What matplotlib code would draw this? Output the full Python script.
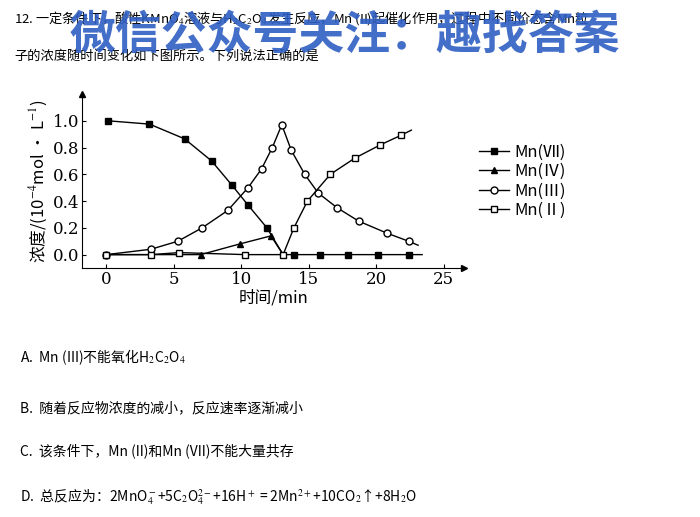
import matplotlib
matplotlib.use("Agg")
import matplotlib.pyplot as plt

plt.rcParams['font.family'] = ['Noto Sans CJK SC', 'DejaVu Sans']
plt.rcParams['mathtext.fontset'] = 'stix'

t7 = [0.1, 3.2, 5.8, 7.8, 9.3, 10.5, 11.9, 13.1, 13.9, 15.8, 17.9, 20.1, 22.4, 23.4]
v7 = [1.0, 0.975, 0.865, 0.70, 0.52, 0.37, 0.20, 0.0, 0.0, 0.0, 0.0, 0.0, 0.0, 0.0]
m7 = [0, 1, 2, 3, 4, 5, 6, 8, 9, 10, 11, 12]
t4 = [0.0, 7.0, 9.9, 12.2, 13.1]
v4 = [0.0, 0.0, 0.08, 0.14, 0.0]
m4 = [1, 2, 3]
t3 = [0.0, 3.3, 5.3, 7.1, 9.0, 10.5, 11.5, 12.3, 13.0, 13.7, 14.7, 15.7, 17.1, 18.7, 20.8, 22.4, 23.1]
v3 = [0.0, 0.04, 0.10, 0.20, 0.33, 0.50, 0.64, 0.80, 0.97, 0.78, 0.60, 0.46, 0.35, 0.25, 0.16, 0.10, 0.07]
m3 = list(range(16))
t2 = [0.0, 3.3, 5.4, 10.3, 13.1, 13.9, 14.9, 16.6, 18.4, 20.3, 21.8, 22.6]
v2 = [0.0, 0.0, 0.015, 0.0, 0.0, 0.20, 0.40, 0.60, 0.72, 0.82, 0.89, 0.93]
m2 = list(range(11))
labels = ['Mn(Ⅶ)', 'Mn(Ⅳ)', 'Mn(Ⅲ)', 'Mn(Ⅱ)']

W, H = 700, 517
fig = plt.figure(figsize=(7, 5.17), dpi=100)
ax = fig.add_axes([82/W, (H-268)/H, 382/W, 174/H])
kw = dict(color='black', lw=1, ms=5, mec='black')
ax.plot(t7, v7, marker='s', mfc='black', markevery=m7, label=labels[0], **kw)
ax.plot(t4, v4, marker='^', mfc='black', markevery=m4, label=labels[1], **kw)
ax.plot(t3, v3, marker='o', mfc='white', markevery=m3, label=labels[2], **kw)
ax.plot(t2, v2, marker='s', mfc='white', markevery=m2, label=labels[3], **kw)
ax.set_xlim(-1.8, 26.5)
ax.set_ylim(-0.1, 1.2)
ax.set_xticks([0, 5, 10, 15, 20, 25])
ax.set_yticks([0.0, 0.2, 0.4, 0.6, 0.8, 1.0])
ax.set_yticklabels(['0.0', '0.2', '0.4', '0.6', '0.8', '1.0'])
for s in ['top', 'right']:
    ax.spines[s].set_visible(False)
ax.plot(1, 0, '>k', ms=4, transform=ax.transAxes, clip_on=False)
ax.plot(0, 1, '^k', ms=4, transform=ax.transAxes, clip_on=False)
ax.tick_params(labelsize=12, direction='in', length=3, pad=2)
for lab in ax.get_xticklabels() + ax.get_yticklabels():
    lab.set_family('DejaVu Serif')
ax.set_xlabel('时间/min', fontsize=12, labelpad=1)
ax.set_ylabel('浓度/(10$^{-4}$mol · L$^{-1}$)', fontsize=12, labelpad=2)
ax.legend(loc='upper left', bbox_to_anchor=(1.0, 0.8), frameon=False, fontsize=12,
          handlelength=1.8, labelspacing=0.15, handletextpad=0.3)

def txt(x, y, s, size=10, **k):
    fig.text(x/W, 1 - y/H, s, fontsize=size, va='center', ha='left', **k)

txt(14, 18, '12. 一定条件下，酸性KMnO$_4$溶液与H$_2$C$_2$O$_4$发生反应，Mn (II)起催化作用，过程中不同价态含Mn粒', 9.5)
txt(14, 57, '子的浓度随时间变化如下图所示。下列说法正确的是', 9.5)
txt(70, 36, '微信公众号关注：趣找答案', 33, color='#2f5fc4', fontweight='bold', alpha=0.9)
txt(20, 357, 'A.  Mn (III)不能氧化H$_2$C$_2$O$_4$', 10)
txt(20, 408, 'B.  随着反应物浓度的减小，反应速率逐渐减小', 10)
txt(20, 451, 'C.  该条件下，Mn (II)和Mn (VII)不能大量共存', 10)
txt(20, 497, 'D.  总反应为：2MnO$_4^-$+5C$_2$O$_4^{2-}$+16H$^+$ = 2Mn$^{2+}$+10CO$_2$↑+8H$_2$O', 10)

fig.savefig('out.png', dpi=100)
